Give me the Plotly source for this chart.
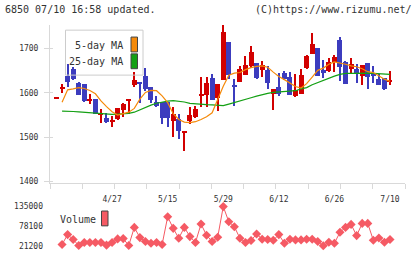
import plotly.graph_objects as go

# ---- data ----
x_idx = list(range(61))
opens = [1589, 1611, 1639, 1654, 1622, 1620, 1583, 1586, 1551, 1544,
         1534, 1542, 1562, 1582, 1618, 1625, 1639, 1613, 1581, 1580,
         1580, 1538, 1542, 1511, 1537, 1547, 1595, 1596, 1634, 1589,
         1630, 1715, 1617, 1625, 1642, 1661, 1669, 1652, 1652, 1598,
         1613, 1646, 1637, 1593, 1598, 1657, 1689, 1703, 1652, 1650,
         1670, 1721, 1671, 1654, 1654, 1639, 1669, 1646, 1631, 1635, 1626]
highs = [1591, 1620, 1665, 1659, 1625, 1621, 1599, 1587, 1564, 1555,
         1548, 1567, 1577, 1587, 1647, 1626, 1657, 1615, 1593, 1581,
         1581, 1568, 1553, 1514, 1569, 1571, 1636, 1636, 1644, 1620,
         1754, 1715, 1631, 1662, 1685, 1707, 1669, 1672, 1661, 1609,
         1646, 1651, 1647, 1643, 1655, 1686, 1736, 1703, 1676, 1680,
         1687, 1727, 1672, 1680, 1665, 1663, 1669, 1661, 1643, 1635, 1651]
lows = [1589, 1601, 1613, 1629, 1595, 1580, 1575, 1552, 1532, 1533,
        1523, 1540, 1546, 1553, 1613, 1579, 1605, 1578, 1569, 1531,
        1523, 1502, 1497, 1470, 1531, 1545, 1569, 1568, 1584, 1559,
        1630, 1631, 1570, 1625, 1641, 1657, 1631, 1637, 1609, 1563,
        1594, 1629, 1596, 1592, 1598, 1655, 1689, 1638, 1634, 1647,
        1648, 1628, 1621, 1644, 1622, 1618, 1609, 1624, 1619, 1607, 1619]
closes = [1591, 1613, 1626, 1631, 1596, 1583, 1586, 1553, 1553, 1534,
          1539, 1566, 1575, 1587, 1629, 1623, 1609, 1585, 1570, 1545,
          1543, 1553, 1515, 1513, 1550, 1564, 1597, 1622, 1584, 1620,
          1739, 1642, 1615, 1654, 1663, 1693, 1635, 1663, 1622, 1609,
          1598, 1633, 1596, 1607, 1642, 1685, 1712, 1639, 1645, 1671,
          1681, 1659, 1621, 1665, 1645, 1663, 1636, 1639, 1619, 1609, 1628]
ma5 = [None, 1579, 1607, 1609, 1612, 1610, 1605.6, 1598, 1582, 1569,
       1557.6, 1550, 1553, 1556.5, 1565, 1586, 1601, 1605.6, 1605, 1593.5,
       1578, 1553, 1540, 1534, 1533, 1535, 1540, 1546, 1555, 1585,
       1615, 1640, 1644.6, 1646, 1652.5, 1657, 1660, 1661, 1658, 1647,
       1637, 1630, 1622, 1614.5, 1611, 1621, 1635.7, 1651, 1656, 1664.7,
       1670, 1668, 1664.7, 1661, 1659, 1654.7, 1648, 1646, 1638, 1631, 1626]
ma25 = [None, 1559, 1559, 1558, 1557, 1556, 1554.7, 1553, 1552, 1551.6,
        1551.6, 1552, 1552.7, 1553.8, 1556.5, 1562, 1567.6, 1572.5, 1576.6, 1579.5,
        1581.5, 1582.6, 1581.5, 1579.5, 1576.3, 1574.8, 1573.9, 1573.4, 1573, 1572,
        1571.4, 1574.8, 1578, 1581, 1584.4, 1589, 1592.6, 1596, 1599, 1601,
        1602, 1602.7, 1603.3, 1605, 1609, 1612, 1618.3, 1623.4, 1629, 1633.5,
        1638, 1641.7, 1644, 1644, 1644.6, 1644.6, 1644.6, 1644, 1643, 1642.4, 1642]
vol_idx = list(range(1, 61))
volume = [25000, 53700, 39400, 22200, 30800, 30800, 30800, 30800, 23100, 30800,
          41300, 42200, 22200, 74700, 45100, 33600, 28800, 30800, 25000, 105300,
          71900, 43200, 74700, 48000, 30800, 84300, 51800, 33600, 46100, 135000,
          91000, 76600, 43200, 30800, 36500, 55600, 40300, 39400, 37400, 53700,
          28800, 40300, 38400, 38400, 40300, 40300, 33600, 21200, 31700, 28800,
          60400, 74700, 83300, 50800, 86200, 86200, 37400, 44100, 31700, 39400]
tick_pos = [10, 20, 30, 40, 50, 60]
tick_labels = ['4/27', '5/15', '5/29', '6/12', '6/26', '7/10']
price_ticks = [1400, 1500, 1600, 1700]
vol_ticks = [21200, 78100, 135000]
vol_labels = ['21200', '78100', '135000']

# ---- styles ----
RED = '#d20000'
BLUE = '#3c3cbe'
ORANGE = '#f58a0a'
GREEN = '#14a014'
VOLC = '#f55a64'
AXC = '#d9d9d9'
TXT = '#333333'
FONT = 'DejaVu Sans Mono'
W, H = 420, 259

cols = [RED if c >= o else BLUE for o, c in zip(opens, closes)]
body_base = [min(o, c) for o, c in zip(opens, closes)]
body_h = [max(abs(c - o), 2.2) for o, c in zip(opens, closes)]
wick_h = [h - l for h, l in zip(highs, lows)]

fig = go.Figure()
fig.add_trace(go.Bar(x=x_idx, base=lows, y=wick_h, width=0.2,
                     marker=dict(color=cols, line=dict(width=0)),
                     xaxis='x', yaxis='y', hoverinfo='skip'))
fig.add_trace(go.Bar(x=x_idx, base=body_base, y=body_h, width=0.9,
                     marker=dict(color=cols, line=dict(width=0)),
                     xaxis='x', yaxis='y', hoverinfo='skip'))
fig.add_trace(go.Scatter(x=x_idx, y=ma25, mode='lines',
                         line=dict(color=GREEN, width=1.2), xaxis='x', yaxis='y'))
fig.add_trace(go.Scatter(x=x_idx, y=ma5, mode='lines',
                         line=dict(color=ORANGE, width=1.2), xaxis='x', yaxis='y'))
# invisible helper so the overlay axes (date labels / inner ticks) are drawn
fig.add_trace(go.Scatter(x=[tick_pos[0]], y=[price_ticks[0]], mode='markers',
                         marker=dict(opacity=0), xaxis='x3', yaxis='y3',
                         hoverinfo='skip'))
fig.add_trace(go.Scatter(x=vol_idx, y=volume, mode='lines+markers',
                         line=dict(color=VOLC, width=1),
                         marker=dict(symbol='diamond', size=7, color=VOLC),
                         cliponaxis=False, xaxis='x2', yaxis='y2'))

xl, xr = 50 / W, 405 / W
xrange = [-1.17, 62.7]
yrange = [1395.8, 1754]
span = xrange[1] - xrange[0]

def py(px):
    return 1 - px / H

fig.update_layout(
    width=W, height=H, margin=dict(l=0, r=0, t=0, b=0),
    paper_bgcolor='white', plot_bgcolor='white', showlegend=False,
    barmode='overlay', bargap=0,
    font=dict(family=FONT, color=TXT, size=8),
    xaxis=dict(domain=[xl, xr], range=xrange, anchor='y',
               showline=True, linecolor=AXC, linewidth=1,
               ticks='outside', ticklen=5, tickcolor=AXC, tickwidth=1,
               tickmode='linear', tick0=xrange[0], dtick=span / 11,
               showticklabels=False, showgrid=False, zeroline=False),
    xaxis3=dict(domain=[xl, xr], range=xrange, anchor='y', overlaying='x',
                side='bottom',
                tickmode='array', tickvals=tick_pos, ticktext=tick_labels,
                ticks='', showline=False, showgrid=False, zeroline=False,
                tickfont=dict(family=FONT, size=8, color=TXT), ticklabelstandoff=10),
    yaxis=dict(domain=[py(185.5), py(25)], range=yrange, anchor='x',
               showline=True, linecolor=AXC, linewidth=1,
               ticks='outside', ticklen=5, tickcolor=AXC,
               tickmode='array', tickvals=price_ticks,
               tickfont=dict(family=FONT, size=8, color=TXT),
               ticklabelstandoff=4,
               showgrid=False, zeroline=False),
    yaxis3=dict(domain=[py(185.5), py(25)], range=yrange, anchor='x',
                overlaying='y', ticks='inside', ticklen=3, tickcolor=AXC,
                tickmode='array', tickvals=price_ticks, showticklabels=False,
                showline=False, showgrid=False, zeroline=False),
    xaxis2=dict(domain=[xl, xr], range=xrange, anchor='y2', visible=False),
    yaxis2=dict(domain=[py(254), py(205)], range=[6010, 146465], anchor='x2',
                tickmode='array', tickvals=vol_ticks, ticktext=vol_labels, ticks='',
                tickfont=dict(family=FONT, size=8, color=TXT),
                ticklabelstandoff=6,
                showline=False, showgrid=False, zeroline=False),
)

# header texts
fig.add_annotation(x=3 / W, y=py(10), xref='paper', yref='paper', xanchor='left',
                   yanchor='middle', showarrow=False, text='6850 07/10 16:58 updated.',
                   font=dict(family=FONT, size=10, color=TXT))
fig.add_annotation(x=414 / W, y=py(10), xref='paper', yref='paper', xanchor='right',
                   yanchor='middle', showarrow=False, text='(C)https://www.rizumu.net/',
                   font=dict(family=FONT, size=10, color=TXT))

# MA legend box
fig.add_shape(type='rect', xref='paper', yref='paper', x0=65.5 / W, x1=143 / W,
              y0=py(76), y1=py(30.5), line=dict(color='#cccccc', width=1),
              fillcolor='rgba(0,0,0,0)')
fig.add_annotation(x=125 / W, y=py(46.5), xref='paper', yref='paper', xanchor='right',
                   yanchor='middle', showarrow=False, text='5-day MA',
                   font=dict(family=FONT, size=10, color=TXT))
fig.add_annotation(x=125 / W, y=py(62), xref='paper', yref='paper', xanchor='right',
                   yanchor='middle', showarrow=False, text='25-day MA',
                   font=dict(family=FONT, size=10, color=TXT))
fig.add_shape(type='rect', xref='paper', yref='paper', x0=131 / W, x1=137.5 / W,
              y0=py(52.5), y1=py(37.5), line=dict(color='#444444', width=1),
              fillcolor=ORANGE)
fig.add_shape(type='rect', xref='paper', yref='paper', x0=131 / W, x1=137.5 / W,
              y0=py(69.5), y1=py(54.5), line=dict(color='#444444', width=1),
              fillcolor=GREEN)

# Volume legend
fig.add_annotation(x=58 / W, y=py(222), xref='paper', yref='paper', xanchor='left',
                   yanchor='middle', showarrow=False, text='Volume',
                   font=dict(family=FONT, size=10, color=TXT))
fig.add_shape(type='rect', xref='paper', yref='paper', x0=101.5 / W, x1=108 / W,
              y0=py(228.5), y1=py(213.5), line=dict(color='#444444', width=1),
              fillcolor=VOLC)

fig.write_html('out.html')
